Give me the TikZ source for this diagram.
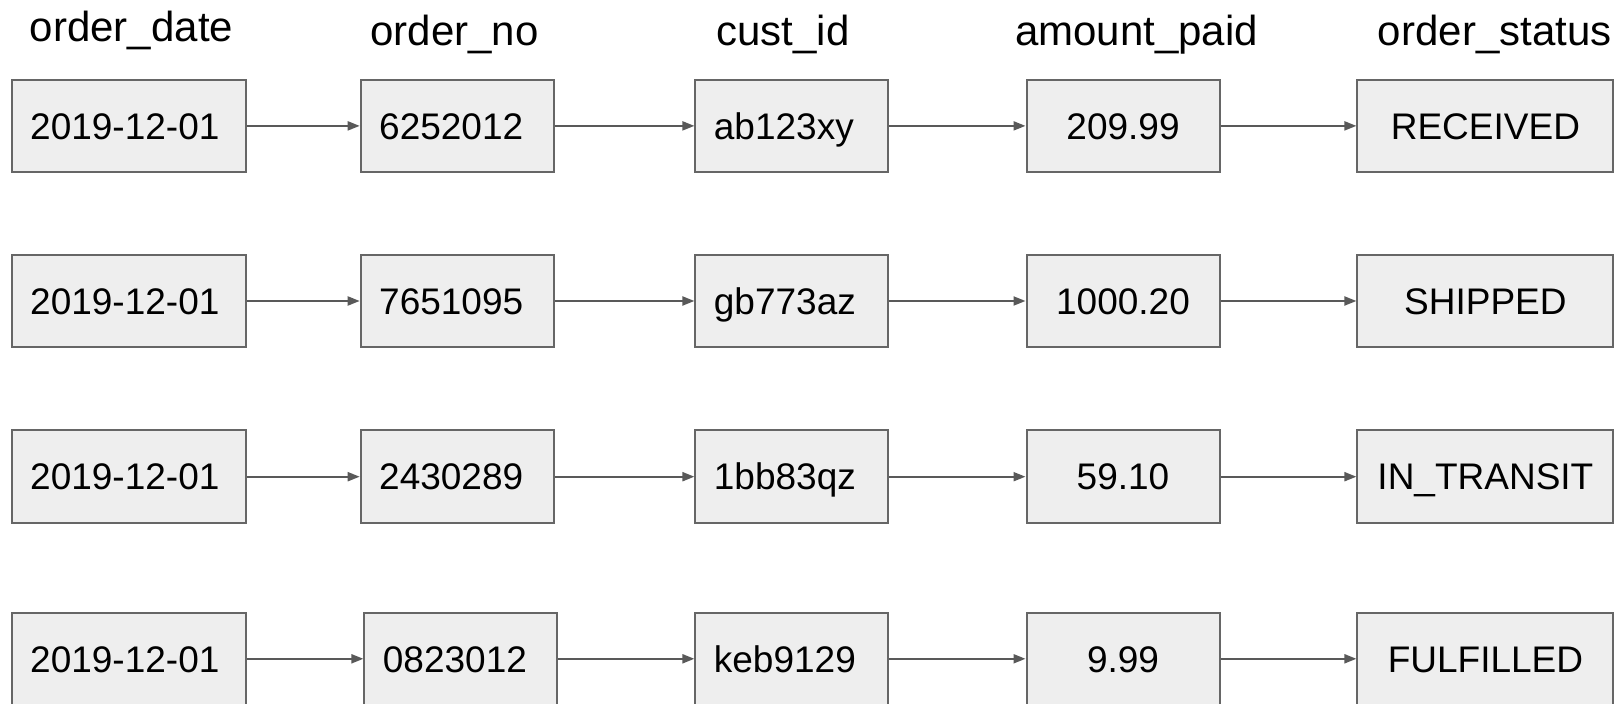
\documentclass[tikz,border=0pt]{standalone}
\usepackage{fontspec}
\setmainfont{Liberation Sans}
\usetikzlibrary{arrows.meta}
\definecolor{cellfill}{HTML}{EEEEEE}
\definecolor{cellline}{HTML}{666666}
\definecolor{flowline}{HTML}{595959}

\begin{document}
\begin{tikzpicture}[x=0.5pt,y=-0.5pt,
  cell/.style={draw=cellline, fill=cellfill, line width=1pt, inner ysep=0pt, minimum height=46.3pt, text height=13.25pt, text depth=0pt, font=\fontsize{18.5}{22}\selectfont},
  leftcell/.style={cell, inner xsep=9.25pt, align=left, text width=#1},
  midcell/.style={cell, inner xsep=0pt, align=center, minimum width=#1},
  head/.style={anchor=base, inner sep=0pt, font=\fontsize{21}{25}\selectfont},
  flow/.style={draw=flowline, line width=1pt, -{Triangle[length=6pt,width=4.5pt]}}]

\clip (0,0) rectangle (1615,704);

\node[head] (hdate) at (131.5,41.7) {order\_date};
\node[head] (hno)   at (454.5,45.5) {order\_no};
\node[head] (hcust) at (783,45.5)   {cust\_id};
\node[head] (hamt)  at (1136.6,45.5) {amount\_paid};
\node[head] (hstat) at (1494.7,45.5) {order\_status};

\node[leftcell=98.5pt] (date1) at (128.7,125.9) {2019-12-01};
\node[leftcell=78pt]   (no1)   at (457.2,125.9) {6252012};
\node[leftcell=78pt]   (cust1) at (791.9,125.9) {ab123xy};
\node[midcell=96.5pt]  (amt1)  at (1123,125.9)  {209.99};
\node[midcell=128pt]   (stat1) at (1485.4,125.9) {RECEIVED};

\node[leftcell=98.5pt] (date2) at (128.7,301) {2019-12-01};
\node[leftcell=78pt]   (no2)   at (457.2,301) {7651095};
\node[leftcell=78pt]   (cust2) at (791.9,301) {gb773az};
\node[midcell=96.5pt]  (amt2)  at (1123,301)  {1000.20};
\node[midcell=128pt]   (stat2) at (1485.4,301) {SHIPPED};

\node[leftcell=98.5pt] (date3) at (128.7,476.7) {2019-12-01};
\node[leftcell=78pt]   (no3)   at (457.2,476.7) {2430289};
\node[leftcell=78pt]   (cust3) at (791.9,476.7) {1bb83qz};
\node[midcell=96.5pt]  (amt3)  at (1123,476.7)  {59.10};
\node[midcell=128pt]   (stat3) at (1485.4,476.7) {IN\_TRANSIT};

\node[leftcell=98.5pt] (date4) at (128.7,658.8) {2019-12-01};
\node[leftcell=78pt]   (no4)   at (460.9,658.8) {0823012};
\node[leftcell=78pt]   (cust4) at (791.9,658.8) {keb9129};
\node[midcell=96.5pt]  (amt4)  at (1123,658.8)  {9.99};
\node[midcell=128pt]   (stat4) at (1485.4,658.8) {FULFILLED};

\draw[flow] (date1) -- (no1);
\draw[flow] (no1) -- (cust1);
\draw[flow] (cust1) -- (amt1);
\draw[flow] (amt1) -- (stat1);

\draw[flow] (date2) -- (no2);
\draw[flow] (no2) -- (cust2);
\draw[flow] (cust2) -- (amt2);
\draw[flow] (amt2) -- (stat2);

\draw[flow] (date3) -- (no3);
\draw[flow] (no3) -- (cust3);
\draw[flow] (cust3) -- (amt3);
\draw[flow] (amt3) -- (stat3);

\draw[flow] (date4) -- (no4);
\draw[flow] (no4) -- (cust4);
\draw[flow] (cust4) -- (amt4);
\draw[flow] (amt4) -- (stat4);

\end{tikzpicture}
\end{document}
